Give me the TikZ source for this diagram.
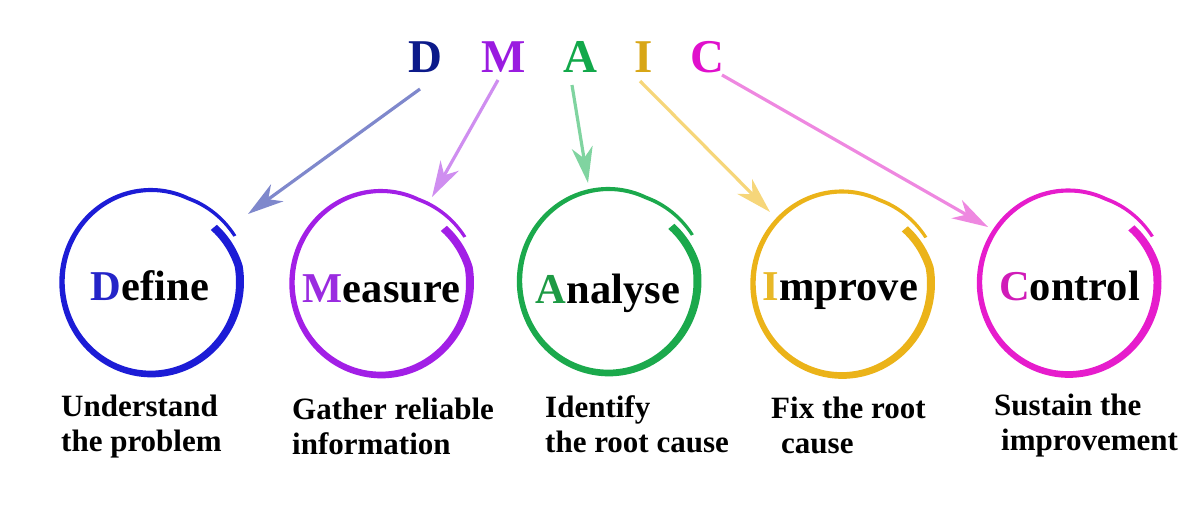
\documentclass[tikz,border=0pt]{standalone}
\usepackage{fontspec}
\setmainfont{Liberation Serif}
\usetikzlibrary{arrows.meta,calc}

% top letters
\definecolor{tDc}{HTML}{0C1A8A}
\definecolor{tMc}{HTML}{9A1BE0}
\definecolor{tAc}{HTML}{12A84A}
\definecolor{tIc}{HTML}{D8A616}
\definecolor{tCc}{HTML}{E010CC}
% rings
\definecolor{rDc}{HTML}{1C1CD6}
\definecolor{rMc}{HTML}{A21FE6}
\definecolor{rAc}{HTML}{1BA94C}
\definecolor{rIc}{HTML}{EBB319}
\definecolor{rCc}{HTML}{E61CCC}
% first letters of words
\definecolor{wDc}{HTML}{2424C8}
\definecolor{wMc}{HTML}{9A2BE0}
\definecolor{wAc}{HTML}{1D9A44}
\definecolor{wIc}{HTML}{E8B828}
\definecolor{wCc}{HTML}{D01CB8}
% arrows
\definecolor{aDc}{HTML}{7F88CC}
\definecolor{aMc}{HTML}{CF8EF0}
\definecolor{aAc}{HTML}{80D4A0}
\definecolor{aIc}{HTML}{F6D67A}
\definecolor{aCc}{HTML}{EE88E0}

\pgfmathdeclarefunction{brd}{1}{\pgfmathparse{-7*max(0,1-#1/30)+6*max(0,(#1-335)/37)}}
\pgfmathdeclarefunction{brw}{1}{\pgfmathparse{4-2.4*max(0,#1-40)/332}}

% brush ring: centre x, centre y, radius x, radius y, colour
\newcommand{\brushring}[5]{%
  \fill[#5] plot[samples=200, domain=0:372, variable=\s]
      ({#1+(#3+brd(\s)+brw(\s))*cos(40-\s)},{#2-(#4+brd(\s)+brw(\s))*sin(40-\s)})
    -- plot[samples=200, domain=372:0, variable=\s]
      ({#1+(#3+brd(\s)-brw(\s))*cos(40-\s)},{#2-(#4+brd(\s)-brw(\s))*sin(40-\s)})
    -- cycle;}

\begin{document}
\begin{tikzpicture}[x=1pt,y=-1pt,
  topletter/.style={font=\fontsize{47}{50}\selectfont\bfseries, inner sep=0pt, anchor=base},
  word/.style={font=\fontsize{42.5}{50}\selectfont\bfseries, inner sep=0pt, anchor=base},
  captext/.style={font=\fontsize{31}{36}\selectfont\bfseries, inner sep=0pt, anchor=base west},
  arr/.style={line width=3.2pt, -{Stealth[length=36pt,width=21pt,inset=11pt]}}]
\useasboundingbox (0,0) rectangle (1200,511);

% rings
\brushring{151}{282}{89}{92}{rDc}
\brushring{381}{283}{89}{92}{rMc}
\brushring{608.5}{281}{89}{92}{rAc}
\brushring{842}{283.5}{89}{92}{rIc}
\brushring{1068.5}{282.5}{89}{92}{rCc}

% top letters
\node[topletter, text=tDc] (lD) at (425.5,73) {D};
\node[topletter, text=tMc] (lM) at (503.5,73) {M};
\node[topletter, text=tAc] (lA) at (580.5,73) {A};
\node[topletter, text=tIc] (lI) at (644,73) {I};
\node[topletter, text=tCc] (lC) at (707.5,73) {C};

% words in rings
\node[word] (define)  at (150,300)    {\textcolor{wDc}{D}efine};
\node[word] (measure) at (381.5,302)  {\textcolor{wMc}{M}easure};
\node[word] (analyse) at (608,303)    {\textcolor{wAc}{A}nalyse};
\node[word] (improve) at (840.5,300)  {\textcolor{wIc}{I}mprove};
\node[word] (control) at (1069.5,300) {\textcolor{wCc}{C}ontrol};

% arrow tips
\coordinate (tD) at (248,214);
\coordinate (tM) at (432,197);
\coordinate (tA) at (588,183);
\coordinate (tI) at (770,212);
\coordinate (tC) at (988,227);

\draw[arr, aDc] ($(lD.base)+(-5.5,16)$) -- (tD);
\draw[arr, aMc] ($(lM.base)+(-5.5,7)$) -- (tM);
\draw[arr, aAc] ($(lA.base)+(-8.5,12)$) -- (tA);
\draw[arr, aIc] ($(lI.base)+(-4,8)$) -- (tI);
\draw[arr, aCc] ($(lC.base)+(14.5,2)$) -- (tC);

% captions
\node[captext] (dA) at (61,416)  {Understand};
\node[captext] (dB) at (61,451)  {the problem};
\node[captext] (mA) at (292,419) {Gather reliable};
\node[captext] (mB) at (292,454) {information};
\node[captext] (aA) at (545,417) {Identify};
\node[captext] (aB) at (545,452) {the root cause};
\node[captext] (iA) at (771,418) {Fix the root};
\node[captext] (iB) at (781,453) {cause};
\node[captext] (cA) at (994,415) {Sustain the};
\node[captext] (cB) at (1001,450) {improvement};
\end{tikzpicture}
\end{document}
